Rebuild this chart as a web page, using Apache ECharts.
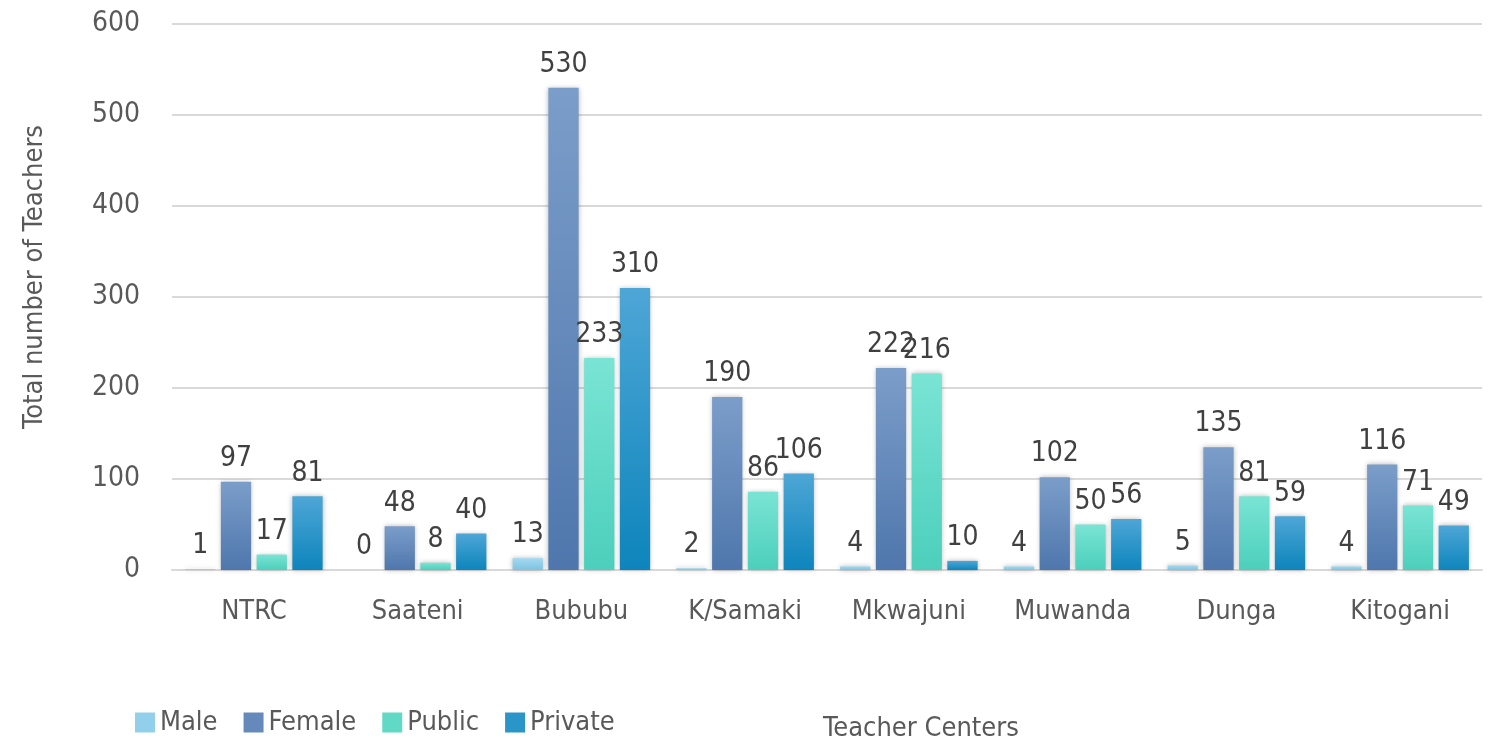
<!DOCTYPE html>
<html><head><meta charset="utf-8">
<script src="https://cdn.jsdelivr.net/npm/echarts@6/dist/echarts.min.js"></script>
<style>html,body{margin:0;padding:0;background:#fff}#c{width:1491px;height:744px}</style>
</head><body><div id="c"></div>
<script>
const categories = ['NTRC','Saateni','Bububu','K/Samaki','Mkwajuni','Muwanda','Dunga','Kitogani'];
const male = [1,0,13,2,4,4,5,4];
const female = [97,48,530,190,222,102,135,116];
const publicV = [17,8,233,86,216,50,81,71];
const privateV = [81,40,310,106,10,56,59,49];
const seriesNames = ['Male','Female','Public','Private'];
const yTicks = [0,100,200,300,400,500,600];

const FONT = '"DejaVu Sans Condensed","Liberation Sans Narrow",sans-serif';
function grad(a,b){return new echarts.graphic.LinearGradient(0,0,0,1,[{offset:0,color:a},{offset:1,color:b}]);}
const colors = [grad('#a6d9f0','#7cc3e2'),grad('#7b9dc9','#4f77ad'),grad('#7ae4d4','#4ccfbc'),grad('#4ea6d6','#0d85bc')];
const legendColors = ['#92cfeb','#6689bb','#62d9c7','#2a95c9'];
const dataSets = [male,female,publicV,privateV];

const chart = echarts.init(document.getElementById('c'));
chart.setOption({
  animation:false,
  textStyle:{fontFamily:FONT},
  grid:{left:172,right:9,top:24,bottom:174},
  legend:{
    left:130, top:704, itemWidth:20, itemHeight:20, itemGap:26,
    icon:'rect',
    textStyle:{fontFamily:FONT,fontSize:27,color:'#595959'},
    data:seriesNames.map((n,i)=>({name:n,itemStyle:{color:legendColors[i]}}))
  },
  title:{text:'Teacher Centers',left:818,top:710,textStyle:{fontFamily:FONT,fontSize:27,fontWeight:'normal',color:'#595959'}},
  xAxis:{
    type:'category',data:categories,
    axisLine:{lineStyle:{color:'#d9d9d9',width:2}},
    axisTick:{show:false},
    axisLabel:{fontFamily:FONT,fontSize:27,color:'#595959',margin:28}
  },
  yAxis:{
    type:'value',min:0,max:600,interval:100,
    name:'Total number of Teachers',nameLocation:'middle',nameGap:124,
    nameTextStyle:{fontFamily:FONT,fontSize:27,color:'#595959',padding:[0,0,0,40]},
    axisLine:{show:false},axisTick:{show:false},
    splitLine:{lineStyle:{color:'#d9d9d9',width:2}},
    axisLabel:{fontFamily:FONT,fontSize:28,color:'#595959',margin:32,
      formatter:v=>yTicks.includes(v)?String(v):''}
  },
  series:seriesNames.map((n,i)=>({
    name:n,type:'bar',data:dataSets[i],
    barGap:'18%',barCategoryGap:'16%',
    itemStyle:{color:colors[i],shadowBlur:5,shadowColor:'rgba(0,0,0,0.28)',shadowOffsetX:0,shadowOffsetY:0},
    label:{show:true,position:'top',distance:9,fontFamily:FONT,fontSize:28,color:'#404040'}
  }))
});
</script></body></html>
